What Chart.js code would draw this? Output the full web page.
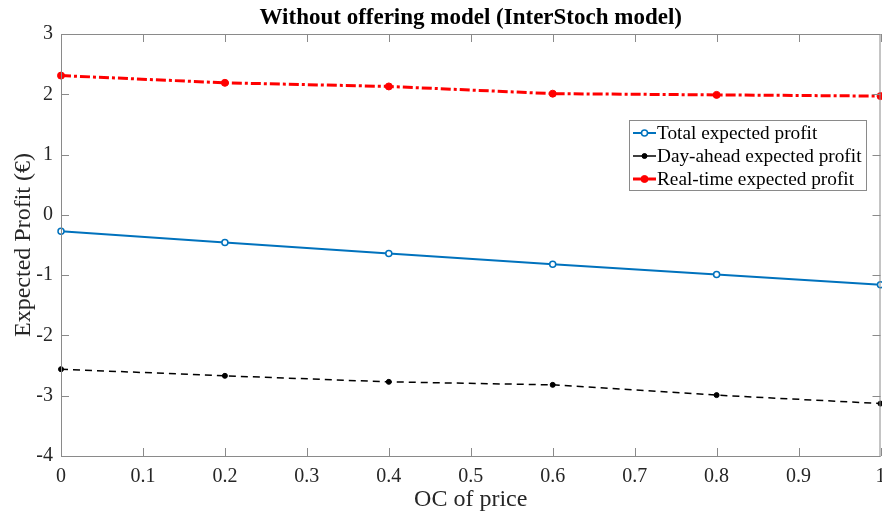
<!DOCTYPE html>
<html>
<head>
<meta charset="utf-8">
<script src="https://cdn.jsdelivr.net/npm/chart.js@4"></script>
<style>
  html, body { margin: 0; padding: 0; background: #fff; overflow: hidden; }
  #wrap { width: 886px; height: 518px; }
</style>
</head>
<body>
<div id="wrap"><canvas id="chartCanvas"></canvas></div>
<script>
// data
const ocPrice = [0, 0.2, 0.4, 0.6, 0.8, 1];
const totalProfit = [-0.27, -0.46, -0.64, -0.82, -0.99, -1.16];
const dayAheadProfit = [-2.56, -2.67, -2.77, -2.82, -2.99, -3.13];
const realTimeProfit = [2.31, 2.19, 2.13, 2.01, 1.99, 1.97];
const seriesNames = ['Total expected profit', 'Day-ahead expected profit', 'Real-time expected profit'];
const titleText = 'Without offering model (InterStoch model)';

const serif = "'Liberation Serif', 'Times New Roman', serif";
const axisGray = '#8a8a8a';
const textColor = '#262626';

function pts(vals) {
    return ocPrice.map((x, i) => ({ x: x, y: vals[i] }));
}

// box, inward ticks, title and legend like matlab
const matlabLook = {
    id: 'matlabLook',
    afterDraw(chart) {
        const c = chart.ctx;
        const a = chart.chartArea;
        const xs = chart.scales.x;
        const ys = chart.scales.y;

        c.save();
        c.strokeStyle = axisGray;
        c.lineWidth = 1;
        c.strokeRect(a.left + 0.5, a.top + 0.5, a.right - a.left - 1, a.bottom - a.top);

        c.beginPath();
        xs.ticks.forEach(t => {
            const px = Math.round(xs.getPixelForValue(t.value)) + 0.5;
            c.moveTo(px, a.bottom); c.lineTo(px, a.bottom - 8);
            c.moveTo(px, a.top); c.lineTo(px, a.top + 8);
        });
        ys.ticks.forEach(t => {
            const py = Math.round(ys.getPixelForValue(t.value)) + 0.5;
            c.moveTo(a.left, py); c.lineTo(a.left + 8, py);
            c.moveTo(a.right, py); c.lineTo(a.right - 8, py);
        });
        c.stroke();

        // title
        c.fillStyle = '#000';
        c.font = 'bold 23px ' + serif;
        c.textAlign = 'center';
        c.textBaseline = 'middle';
        c.fillText(titleText, (a.left + a.right) / 2, 18);

        // legend
        const bx = 629, by = 120, bw = 237, bh = 70;
        c.fillStyle = '#fff';
        c.fillRect(bx, by, bw, bh);
        c.strokeStyle = axisGray;
        c.strokeRect(bx + 0.5, by + 0.5, bw, bh);
        c.font = '19.3px ' + serif;
        c.textAlign = 'left';
        chart.data.datasets.forEach((ds, i) => {
            const yy = by + 13 + i * 23;
            c.strokeStyle = ds.borderColor;
            c.lineWidth = ds.borderWidth;
            c.setLineDash([]);
            c.beginPath();
            c.moveTo(bx + 4, yy); c.lineTo(bx + 27, yy);
            c.stroke();
            c.beginPath();
            c.arc(bx + 15.5, yy, ds.pointRadius, 0, Math.PI * 2);
            c.fillStyle = ds.pointBackgroundColor;
            c.fill();
            c.lineWidth = ds.pointBorderWidth;
            c.strokeStyle = ds.pointBorderColor;
            c.stroke();
            c.fillStyle = '#000';
            c.fillText(ds.label, bx + 28, yy + 1);
        });
        c.restore();
    }
};

let ctx = document.querySelector('#chartCanvas');

let graph = new Chart(ctx, {
    type: 'line',
    data: {
        datasets: [{
            label: seriesNames[0],
            data: pts(totalProfit),
            borderColor: '#0072BD',
            borderWidth: 2,
            pointRadius: 3,
            pointBorderWidth: 1.5,
            pointBorderColor: '#0072BD',
            pointBackgroundColor: '#fff'
        }, {
            label: seriesNames[1],
            data: pts(dayAheadProfit),
            borderColor: '#000',
            borderWidth: 1.5,
            borderDash: [7, 5],
            pointRadius: 2.5,
            pointBorderWidth: 1,
            pointBorderColor: '#000',
            pointBackgroundColor: '#000'
        }, {
            label: seriesNames[2],
            data: pts(realTimeProfit),
            borderColor: '#FF0000',
            borderWidth: 3,
            borderDash: [10, 3, 3, 3],
            pointRadius: 3.5,
            pointBorderWidth: 1,
            pointBorderColor: '#FF0000',
            pointBackgroundColor: '#FF0000'
        }]
    },
    options: {
        responsive: true,
        maintainAspectRatio: false,
        animation: false,
        clip: false,
        layout: { padding: { top: 34, right: 0 } },
        plugins: {
            legend: { display: false },
            title: { display: false },
            tooltip: { enabled: false }
        },
        scales: {
            x: {
                type: 'linear',
                min: 0,
                max: 1,
                afterFit: s => { s.height = 62; s.paddingLeft = 0; s.paddingRight = 0; },
                grid: { display: false, drawTicks: false },
                border: { display: false },
                ticks: {
                    stepSize: 0.1,
                    padding: 9,
                    color: textColor,
                    font: { family: serif, size: 20 },
                    callback: v => String(+v.toFixed(1))
                },
                title: {
                    display: true,
                    text: 'OC of price',
                    color: textColor,
                    font: { family: serif, size: 24 },
                    padding: { top: 0, bottom: 4 }
                }
            },
            y: {
                min: -4,
                max: 3,
                afterFit: s => { s.width = 61; s.paddingTop = 0; s.paddingBottom = 0; },
                grid: { display: false, drawTicks: false },
                border: { display: false },
                ticks: {
                    stepSize: 1,
                    padding: 8,
                    color: textColor,
                    font: { family: serif, size: 20 }
                },
                title: {
                    display: true,
                    text: 'Expected Profit (€)',
                    color: textColor,
                    font: { family: serif, size: 24 },
                    padding: { top: 9, bottom: 0 }
                }
            }
        }
    },
    plugins: [matlabLook]
});
</script>
</body>
</html>
